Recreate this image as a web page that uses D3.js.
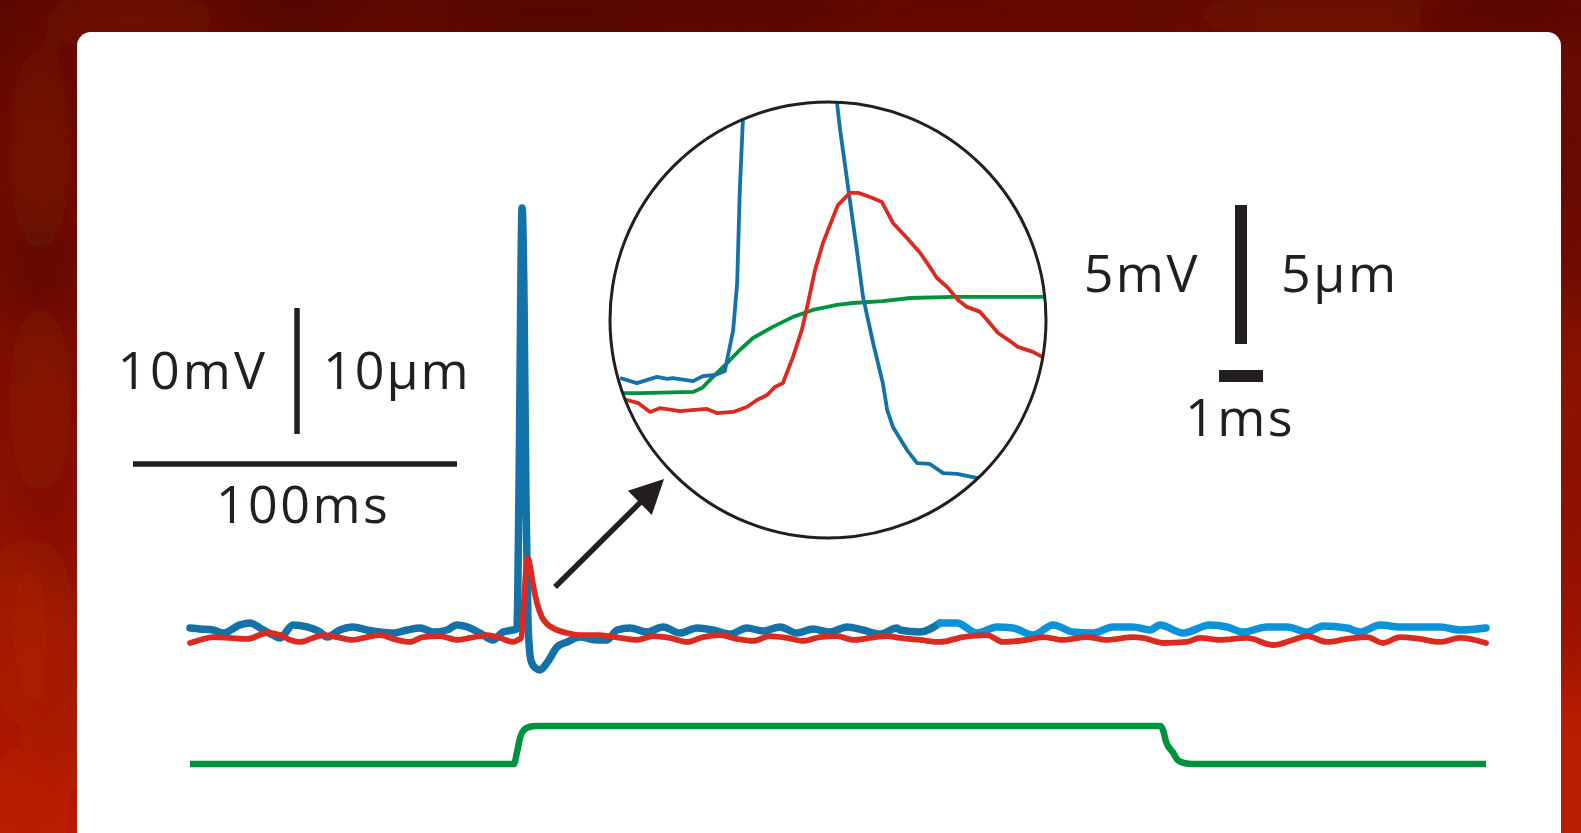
<!DOCTYPE html>
<html>
<head>
<meta charset="utf-8">
<script src="https://cdn.jsdelivr.net/npm/d3@7/dist/d3.min.js"></script>
<style>
  html, body { margin: 0; padding: 0; background: #5e0a02; }
  svg { display: block; }
  text { font-family: "Open Sans", "DejaVu Sans", sans-serif; fill: #231f20; }
</style>
</head>
<body>
<svg id="chart" width="1581" height="833"></svg>
<script>
// ---------------- DATA ----------------
// Main recording: time (ms) and value (mV for blue voltage, µm for red displacement)
const blueTrace = [
  [0,0.16],[3.1,0.08],[7.1,0],[10.2,-0.24],[15.4,0.40],[18.5,0.56],[21.6,0.16],[25.6,-0.40],
  [27.8,-0.63],[31.8,0.40],[36.1,0.24],[40.1,-0.16],[42.3,-0.56],[46.3,0],[50.3,0.24],[54.6,0],
  [58.6,-0.16],[62.7,-0.24],[67.0,0],[71.0,0.16],[75.0,-0.16],[79.3,0],[82.4,0.40],[86.4,0.16],
  [89.5,-0.24],[93.5,-0.79],[96.6,-0.16],[99.7,0],[100.9,0.08],
  [101.5,10.3],[102.5,33.5],[103.1,26.2],[103.7,10.3],[104.3,0.8],[105.2,-2.4],[106.5,-3.0],
  [108.0,-3.17],[110.2,-2.6],[113.3,-1.35],[116.4,-0.95],[120.4,-0.56],[125.6,-0.79],[128.7,-0.79],
  [131.8,0],[135.8,0.16],[141.0,-0.16],[146.0,0.24],[151.2,-0.24],[156.5,0.16],[161.4,0],
  [166.7,-0.32],[171.9,0.16],[176.9,-0.08],[182.1,0.24],[187.3,-0.24],[192.3,0.08],[197.5,-0.16],
  [202.8,0.24],[207.7,0],[213.0,-0.32],[218.2,0.16],[219.1,0],[225.3,-0.16],[231.5,0.56],
  [236.7,0.56],[242.9,-0.24],[249.1,0.24],[254.0,0.16],[260.2,-0.40],[266.4,0.40],[272.5,-0.16],
  [278.7,-0.24],[284.9,0.24],[291.0,0.24],[296.3,0],[299.4,0.40],[306.5,-0.24],[314.8,0.40],
  [320.1,0.24],[325.0,-0.16],[332.4,0.24],[338.6,0.24],[344.8,-0.16],[349.7,0.32],[357.1,0.16],
  [361.1,-0.16],[367.3,0.40],[373.5,0.24],[379.6,0.24],[385.8,0.24],[392.0,0],[400,0.16]
];
const blueColourSwitch = 231.5; // ms, trace colour changes here

const redTrace = [
  [0,-1.03],[3.1,-0.79],[7.1,-0.56],[12.3,-0.63],[17.6,-0.71],[23.8,-0.24],[27.8,-0.40],[30.9,-0.79],
  [34.0,-0.95],[38.0,-0.63],[41.0,-0.40],[45.4,-0.56],[50.3,-0.79],[54.6,-0.56],[58.6,-0.40],
  [63.9,-0.79],[67.9,-0.95],[71.9,-0.56],[77.2,-0.48],[82.4,-0.79],[86.4,-0.63],[91.7,-0.40],
  [95.7,-0.63],[99.7,-0.95],[101.2,-0.79],
  [102.2,-0.63],[103.1,2.38],[103.7,4.76],[104.3,5.71],[104.9,5.16],[105.9,3.57],[107.1,2.14],
  [108.6,1.03],[110.2,0.48],[113.3,0],[116.4,-0.24],[120.4,-0.40],[126.5,-0.40],[132.7,-0.63],
  [138.0,-0.79],[142.9,-0.48],[148.1,-0.63],[153.4,-0.95],[158.3,-0.56],[163.6,-0.40],[168.8,-0.71],
  [173.8,-0.87],[179.0,-0.48],[184.3,-0.63],[189.2,-0.87],[194.4,-0.56],[199.7,-0.48],[204.6,-0.79],
  [209.9,-0.63],[215.1,-0.48],[219.1,-0.63],[225.3,-0.79],[231.5,-0.95],[238.6,-0.56],[246.0,-0.40],
  [250.9,-0.95],[258.3,-0.79],[263.3,-0.56],[269.4,-0.79],[276.9,-0.56],[283.0,-0.79],[291.0,-0.56],
  [294.1,-0.63],[300.3,-1.03],[307.7,-0.95],[311.7,-0.63],[317.9,-0.79],[326.2,-0.63],[334.3,-1.19],
  [340.4,-0.79],[344.8,-0.48],[350.9,-0.95],[357.1,-0.71],[363.3,-0.56],[368.2,-1.03],[373.5,-0.56],
  [379.6,-0.71],[385.8,-0.95],[392.0,-0.63],[400,-1.03]
];

// Stimulus (normalised 0 = off, 1 = on)
const stimTrace = [
  [0,0],[100.0,0],[100.9,0.3],[101.9,0.7],[103.1,0.9],[104.9,0.98],[106.8,1.0],
  [299.4,1.0],[300.3,0.9],[301.2,0.6],[303.4,0.3],[304.9,0.1],[307.1,0.02],[309.3,0],[400,0]
];

// Inset (magnified around the spike): time (ms) and value (mV / µm)
const insetBlue = [
  [0.23,0.07],[0.61,-0.11],[1.07,0.11],[1.30,0.04],[1.43,0.07],[1.89,-0.04],[2.11,0.14],[2.39,0.18],
  [2.61,0.32],[2.80,1.80],[2.89,3.49],[2.95,6.83],[3.02,9.35],[3.09,12.2],[3.23,20.9],[3.59,28.8],
  [3.95,24.5],[4.55,17.3],[5.0,11.5],[5.16,9.96],[5.23,8.99],[5.41,6.94],[5.61,4.68],[5.75,2.99],
  [5.98,1.33],[6.20,-0.11],[6.30,-1.08],[6.43,-1.69],[6.75,-2.52],[6.98,-2.99],[7.27,-3.02],
  [7.57,-3.35],[7.89,-3.38],[8.25,-3.49],[8.6,-3.6]
];
const insetRed = [
  [0.2,-0.68],[0.39,-0.72],[0.64,-0.83],[0.91,-1.15],[1.14,-1.01],[1.59,-1.12],[2.20,-1.04],[2.43,-1.19],
  [2.80,-1.15],[3.11,-0.97],[3.34,-0.72],[3.57,-0.54],[3.75,-0.25],[3.93,-0.11],[4.16,0.83],
  [4.36,1.80],[4.50,2.77],[4.66,3.96],[4.84,4.93],[5.07,5.86],[5.18,6.29],[5.45,6.73],[5.64,6.73],
  [5.91,6.58],[6.18,6.40],[6.43,5.65],[6.75,5.11],[7.05,4.57],[7.27,4.06],[7.43,3.67],[7.66,3.35],
  [7.91,2.88],[8.11,2.63],[8.41,2.45],[8.57,2.16],[8.82,1.69],[9.09,1.40],[9.27,1.19],[9.61,1.01],
  [9.82,0.83],[10.0,0.7]
];
const insetGreen = [
  [0.2,-0.47],[0.34,-0.47],[0.68,-0.47],[1.89,-0.43],[2.09,-0.29],[2.34,0.11],[2.66,0.61],[2.95,1.08],
  [3.25,1.51],[3.70,1.91],[4.16,2.27],[4.61,2.52],[5.16,2.70],[5.52,2.77],[6.20,2.84],[6.82,2.95],
  [7.80,2.99],[9.84,2.99],[10.0,2.99]
];

// Scale-bar labels and sizes (data units)
const mainBarLabels = { voltage: "10mV", length: "10μm", time: "100ms" };
const mainBarValues = { voltage: 10, time: 100 };
const insetBarLabels = { voltage: "5mV", length: "5μm", time: "1ms" };
const insetBarValues = { voltage: 5, time: 1 };

// ---------------- LAYOUT ----------------
const W = 1581, H = 833;
const svg = d3.select("#chart");

const C = {
  blueDark: "#1372a7",
  blueLight: "#0b93d9",
  red: "#db2a1f",
  green: "#00923f",
  ink: "#231f20"
};

// Scales
const xMain = d3.scaleLinear().domain([0, 400]).range([190, 1486]);
const yMain = d3.scaleLinear().domain([0, 10]).range([630, 504]);
const yStim = d3.scaleLinear().domain([0, 1]).range([764, 726]);
const xInset = d3.scaleLinear().domain([0, 10]).range([610, 1050]);
const yInset = d3.scaleLinear().domain([0, 5]).range([380, 241]);

// ---------------- BACKGROUND ----------------
const defs = svg.append("defs");
const lg = defs.append("linearGradient").attr("id", "bgGrad")
  .attr("x1", "0").attr("y1", "0").attr("x2", "0.15").attr("y2", "1");
lg.append("stop").attr("offset", "0").attr("stop-color", "#5c0900");
lg.append("stop").attr("offset", "0.45").attr("stop-color", "#7a1000");
lg.append("stop").attr("offset", "1").attr("stop-color", "#bb1d00");
svg.append("rect").attr("width", W).attr("height", H).attr("fill", "url(#bgGrad)");

const blur = defs.append("filter").attr("id", "soft").attr("x", "-50%").attr("y", "-50%")
  .attr("width", "200%").attr("height", "200%");
blur.append("feGaussianBlur").attr("stdDeviation", 20);
const blobs = [
  [130, 20, 90, 30, "#8a1a06", 0.4], [300, 10, 60, 20, "#420400", 0.4],
  [560, 15, 120, 25, "#3e0300", 0.4], [760, 10, 90, 22, "#4a0500", 0.45], [1000, 15, 150, 25, "#6c0e02", 0.35],
  [1320, 15, 140, 25, "#7e1203", 0.35], [1520, 15, 100, 25, "#4a0500", 0.45],
  [40, 150, 30, 110, "#8e1704", 0.35], [40, 270, 30, 70, "#420500", 0.35], [40, 400, 30, 100, "#9c1c06", 0.35],
  [50, 530, 30, 80, "#6e0c00", 0.3], [30, 630, 30, 90, "#c02a08", 0.35], [50, 730, 30, 60, "#a01800", 0.3],
  [30, 810, 40, 60, "#c42200", 0.35], [1572, 200, 20, 120, "#4c0600", 0.4], [1572, 560, 20, 140, "#6a0c02", 0.4]
];
svg.append("g").attr("filter", "url(#soft)").selectAll("ellipse").data(blobs).join("ellipse")
  .attr("cx", d => d[0]).attr("cy", d => d[1]).attr("rx", d => d[2]).attr("ry", d => d[3])
  .attr("fill", d => d[4]).attr("opacity", d => d[5]);

// White panel
svg.append("rect").attr("x", 77).attr("y", 32).attr("width", 1484).attr("height", 900)
  .attr("rx", 14).attr("ry", 14).attr("fill", "#ffffff");

// ---------------- MAIN TRACES ----------------
const lineMain = d3.line().x(d => xMain(d[0])).y(d => yMain(d[1])).curve(d3.curveMonotoneX);
const lineStim = d3.line().x(d => xMain(d[0])).y(d => yStim(d[1])).curve(d3.curveMonotoneX);

const gMain = svg.append("g").attr("fill", "none").attr("stroke-linejoin", "round").attr("stroke-linecap", "round");

gMain.append("path").datum(stimTrace).attr("d", lineStim)
  .attr("stroke", C.green).attr("stroke-width", 6.5).attr("stroke-linecap", "butt");

gMain.append("path").datum(blueTrace.filter(d => d[0] <= blueColourSwitch)).attr("d", lineMain)
  .attr("stroke", C.blueDark).attr("stroke-width", 7.5);
gMain.append("path").datum(blueTrace.filter(d => d[0] >= blueColourSwitch)).attr("d", lineMain)
  .attr("stroke", C.blueLight).attr("stroke-width", 7.5);

gMain.append("path").datum(redTrace).attr("d", lineMain)
  .attr("stroke", C.red).attr("stroke-width", 5.8);

// ---------------- INSET ----------------
const cx = 828, cy = 320, r = 218;
defs.append("clipPath").attr("id", "insetClip").append("circle")
  .attr("cx", cx).attr("cy", cy).attr("r", r - 1);

const lineInset = d3.line().x(d => xInset(d[0])).y(d => yInset(d[1]));
const gInset = svg.append("g").attr("clip-path", "url(#insetClip)").attr("fill", "none")
  .attr("stroke-width", 3.8).attr("stroke-linejoin", "round");
gInset.append("path").datum(insetGreen).attr("d", lineInset).attr("stroke", C.green);
gInset.append("path").datum(insetBlue).attr("d", lineInset).attr("stroke", C.blueDark);
gInset.append("path").datum(insetRed).attr("d", lineInset).attr("stroke", C.red);

svg.append("circle").attr("cx", cx).attr("cy", cy).attr("r", r)
  .attr("fill", "none").attr("stroke", C.ink).attr("stroke-width", 3);

// Arrow pointing to inset
const arrowTail = [555, 587], arrowTip = [664, 479];
const ang = Math.atan2(arrowTip[1] - arrowTail[1], arrowTip[0] - arrowTail[0]);
const headLen = 34, headHalf = 17;
const bx = arrowTip[0] - headLen * Math.cos(ang), by = arrowTip[1] - headLen * Math.sin(ang);
svg.append("line").attr("x1", arrowTail[0]).attr("y1", arrowTail[1])
  .attr("x2", bx + 4 * Math.cos(ang)).attr("y2", by + 4 * Math.sin(ang))
  .attr("stroke", C.ink).attr("stroke-width", 5.5);
svg.append("polygon").attr("fill", C.ink).attr("points", [
  arrowTip,
  [bx + headHalf * Math.sin(ang), by - headHalf * Math.cos(ang)],
  [bx - headHalf * Math.sin(ang), by + headHalf * Math.cos(ang)]
].map(p => p.join(",")).join(" "));

// ---------------- SCALE BARS ----------------
const fs = 52;
// Main
const mvX = 297, mvTop = 308;
const mvLen = yMain(0) - yMain(mainBarValues.voltage);
svg.append("rect").attr("x", mvX - 2.75).attr("y", mvTop).attr("width", 5.5).attr("height", mvLen).attr("fill", C.ink);
const tX0 = 133, tY = 464;
const tLen = xMain(mainBarValues.time) - xMain(0);
svg.append("rect").attr("x", tX0).attr("y", tY - 2.75).attr("width", tLen).attr("height", 5.5).attr("fill", C.ink);
svg.append("text").attr("x", 268).attr("y", 389).attr("text-anchor", "end").attr("font-size", fs)
  .attr("letter-spacing", 3).text(mainBarLabels.voltage);
svg.append("text").attr("x", 323).attr("y", 389).attr("text-anchor", "start").attr("font-size", fs)
  .attr("letter-spacing", 2).text(mainBarLabels.length);
svg.append("text").attr("x", 303).attr("y", 523).attr("text-anchor", "middle").attr("font-size", fs)
  .attr("letter-spacing", 2.5).text(mainBarLabels.time);

// Inset
const ivX = 1241, ivTop = 205;
const ivLen = yInset(0) - yInset(insetBarValues.voltage);
svg.append("rect").attr("x", ivX - 6).attr("y", ivTop).attr("width", 12).attr("height", ivLen).attr("fill", C.ink);
const itLen = xInset(insetBarValues.time) - xInset(0);
svg.append("rect").attr("x", 1219).attr("y", 370).attr("width", itLen).attr("height", 12).attr("fill", C.ink);
svg.append("text").attr("x", 1200).attr("y", 292).attr("text-anchor", "end").attr("font-size", fs)
  .attr("letter-spacing", 2.5).text(insetBarLabels.voltage);
svg.append("text").attr("x", 1281).attr("y", 292).attr("text-anchor", "start").attr("font-size", fs)
  .attr("letter-spacing", 2.5).text(insetBarLabels.length);
svg.append("text").attr("x", 1240).attr("y", 436).attr("text-anchor", "middle").attr("font-size", fs)
  .attr("letter-spacing", 2.5).text(insetBarLabels.time);
</script>
</body>
</html>
